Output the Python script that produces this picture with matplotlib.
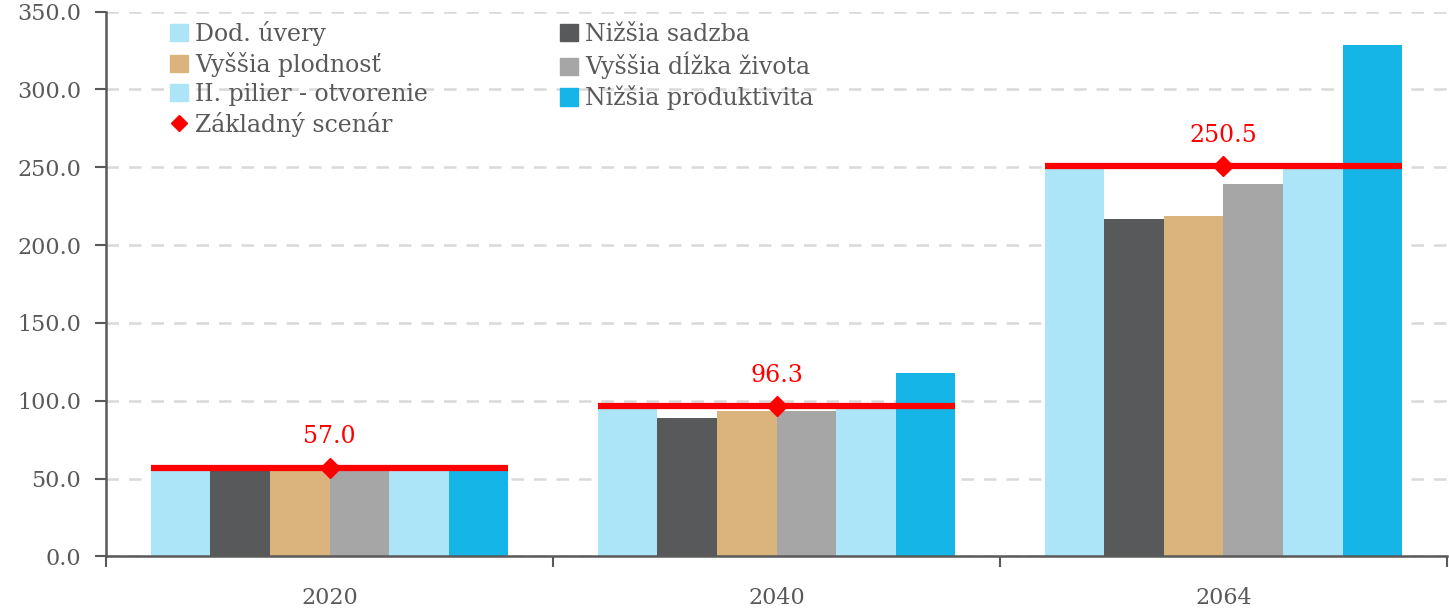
import matplotlib
matplotlib.use("Agg")
import matplotlib.pyplot as plt
import numpy as np
from matplotlib.lines import Line2D
from matplotlib.patches import Patch

years = ["2020", "2040", "2064"]
series_names = ["Dod. úvery", "Nižšia sadzba", "Vyššia plodnosť",
                "Vyššia dĺžka života", "II. pilier - otvorenie", "Nižšia produktivita"]
dod_uvery = [58.3, 95.0, 253.0]
nizsia_sadzba = [58.3, 88.8, 217.0]
vyssia_plodnost = [58.3, 93.5, 218.5]
vyssia_dlzka = [58.3, 93.5, 239.5]
ii_pilier = [58.3, 95.0, 249.0]
nizsia_produktivita = [58.3, 117.5, 328.5]
zakladny = [57.0, 96.3, 250.5]
zakladny_name = "Základný scenár"

colors = ["#ACE5F7", "#58595B", "#DBB37C", "#A6A6A6", "#ACE5F7", "#15B5E8"]
txt = "#595959"
font = "DejaVu Serif"

plt.rcParams["font.family"] = [font, "DejaVu Sans"]

fig = plt.figure(figsize=(14.49, 6.10), dpi=100)
ax = fig.add_axes([0.0732, 0.088, 0.9254, 0.893])

series = [dod_uvery, nizsia_sadzba, vyssia_plodnost, vyssia_dlzka, ii_pilier, nizsia_produktivita]
x = np.arange(len(years))
n = len(series)
group = 0.8
w = group / n
for i, (vals, c, name) in enumerate(zip(series, colors, series_names)):
    ax.bar(x - group / 2 + w * (i + 0.5), vals, width=w, color=c, zorder=2, label=name)

for xi, v in zip(x, zakladny):
    ax.plot([xi - group / 2, xi + group / 2], [v, v], color="#FF0000", lw=4.5, zorder=3,
            solid_capstyle="butt")
    ax.plot([xi], [v], marker="D", color="#FF0000", ms=10, zorder=4, lw=0)
    ax.annotate(f"{v:.1f}", (xi, v), xytext=(0, 14), textcoords="offset points",
                ha="center", va="bottom", color="#FF0000", fontsize=17)

ax.set_xlim(-0.5, 2.5)
ax.set_ylim(0, 350)
ax.set_yticks(np.arange(0, 351, 50))
ax.set_yticklabels([f"{t:.1f}" for t in np.arange(0, 351, 50)])
ax.yaxis.grid(True, color="#D9D9D9", linestyle=(0, (5, 4)), lw=1.8, zorder=0)
ax.set_axisbelow(True)

ax.set_xticks(x)
ax.set_xticklabels(years)
ax.set_xticks([-0.5, 0.5, 1.5, 2.5], minor=True)
ax.tick_params(axis="x", which="major", length=0, pad=22, labelsize=16, labelcolor=txt)
ax.tick_params(axis="x", which="minor", length=8, width=1.5, color=txt)
ax.tick_params(axis="y", length=8, width=1.5, color=txt, labelsize=16, labelcolor=txt, pad=10)

for s in ["top", "right"]:
    ax.spines[s].set_visible(False)
for s in ["left", "bottom"]:
    ax.spines[s].set_color(txt)
    ax.spines[s].set_linewidth(1.8)

handles = [Patch(color=colors[0]), Patch(color=colors[2]), Patch(color=colors[4]),
           Line2D([], [], marker="D", color="#FF0000", lw=0, ms=8),
           Patch(color=colors[1]), Patch(color=colors[3]), Patch(color=colors[5])]
labels = [series_names[0], series_names[2], series_names[4], zakladny_name,
          series_names[1], series_names[3], series_names[5]]
leg = ax.legend(handles, labels, ncol=2, loc="upper left", bbox_to_anchor=(0.041, 1.0),
                frameon=False, fontsize=17, handlelength=0.75, handleheight=0.75,
                handletextpad=0.3, labelspacing=0.25, columnspacing=5.6, borderaxespad=0.0)
for t in leg.get_texts():
    t.set_color(txt)

fig.savefig("out.png", dpi=100)
